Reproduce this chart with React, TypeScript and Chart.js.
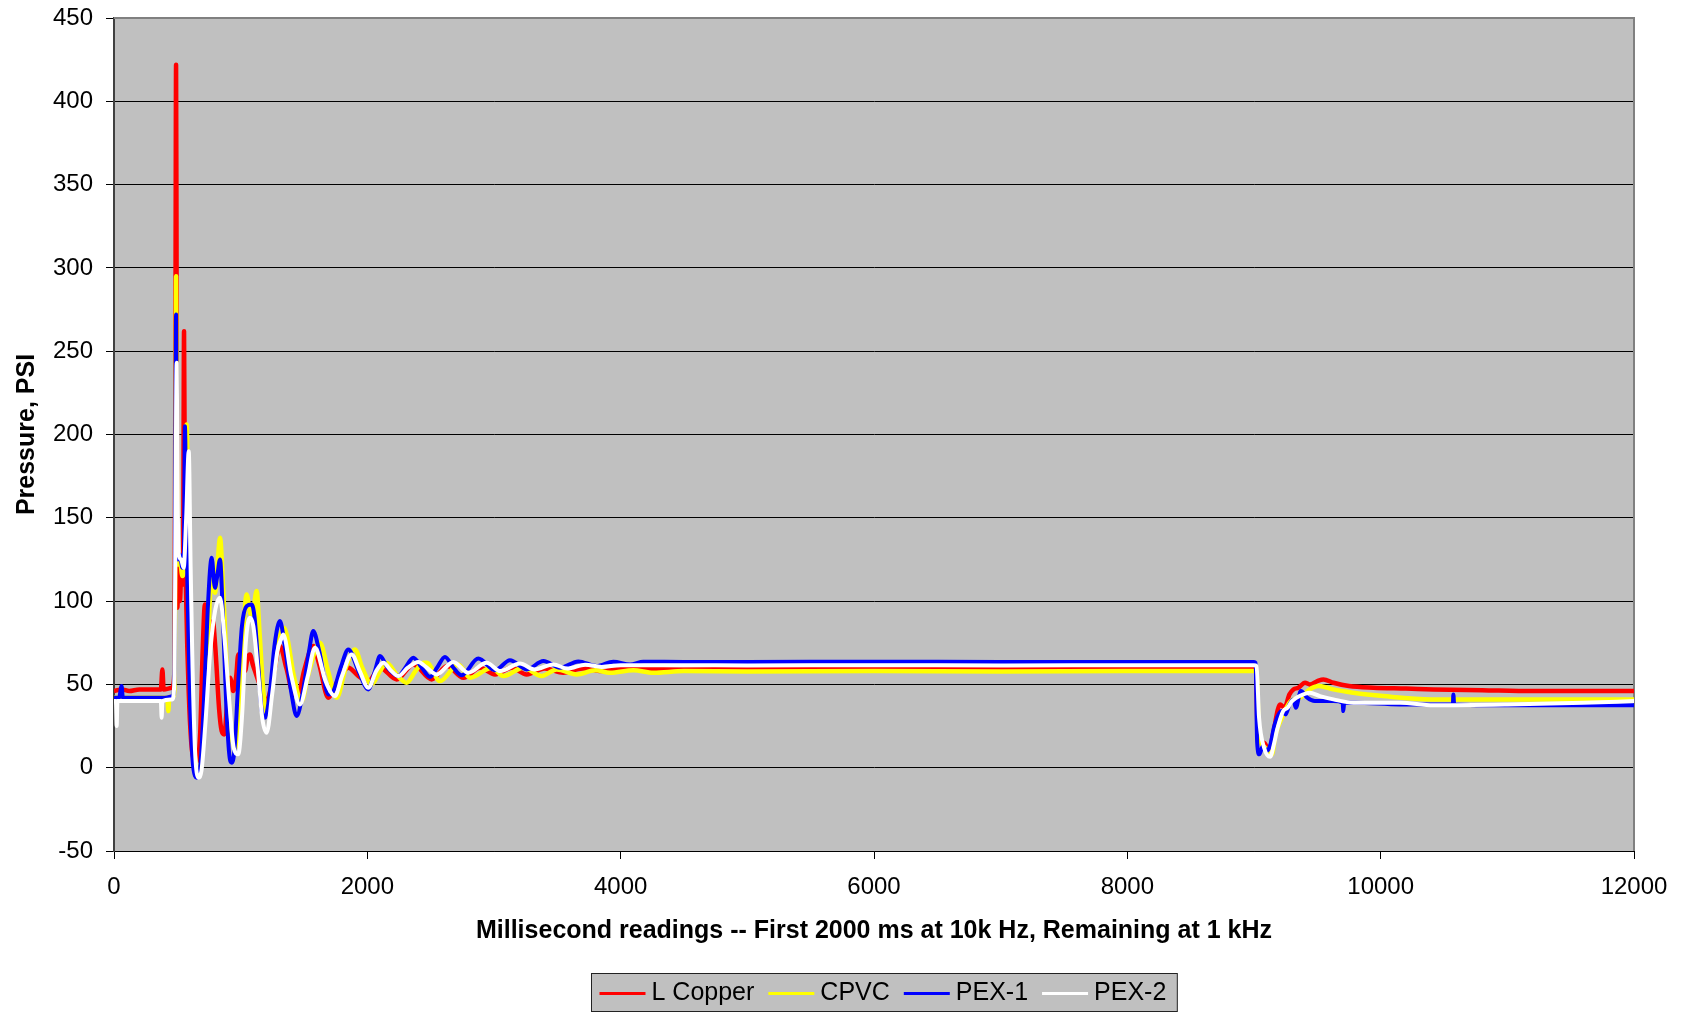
import { useEffect, useRef } from 'react';
import { Chart, registerables } from 'chart.js';

Chart.register(...registerables);

// Pressure transient readings (ms, psi) for each pipe material
const copperTime = [0, 60, 120, 200, 300, 370, 382, 392, 460, 478, 486, 490, 494, 500, 510, 520, 535, 545, 553, 560, 570, 590, 610, 630, 655, 680, 700, 718, 735, 755, 780, 800, 830, 850, 870, 895, 916, 942, 965, 981, 1005, 1034, 1055, 1073, 1095, 1113, 1150, 1205, 1250, 1310, 1360, 1420, 1460, 1500, 1574, 1620, 1692, 1750, 1850, 1930, 2008, 2100, 2231, 2363, 2508, 2630, 2758, 2890, 3008, 3140, 3258, 3400, 3547, 3700, 3850, 4000, 4500, 5000, 6000, 7000, 8000, 9000, 9016, 9030, 9080, 9120, 9150, 9206, 9240, 9280, 9311, 9350, 9403, 9440, 9500, 9548, 9627, 9750, 9942, 10200, 10416, 10800, 11206, 11600, 12000];
const copperPsi = [46, 47, 46, 47, 47, 47, 59, 47, 48, 60, 300, 422, 300, 96, 122, 100, 124, 110, 262, 150, 100, 45, 15, 5, 4, 20, 70, 98, 90, 82, 88, 72, 35, 22, 20, 40, 54, 46, 55, 68, 62, 58, 66, 68, 62, 58, 50, 40, 52, 73, 60, 44, 45, 58, 73, 62, 42, 50, 60, 55, 52, 60, 53, 62, 53, 61, 54, 60, 56, 60, 56, 59.5, 57, 59.5, 58, 59.5, 59, 59.3, 59.3, 59.3, 59.3, 59.3, 59, 16, 15, 10, 20, 38, 36, 44, 47, 48, 51, 50, 52, 53, 51, 49, 48, 47.5, 47, 46.5, 46, 46, 46];

const cpvcTime = [0, 100, 200, 300, 420, 429, 436, 470, 480, 486, 490, 495, 505, 520, 540, 560, 573, 585, 600, 625, 645, 666, 690, 720, 750, 771, 797, 820, 837, 860, 890, 920, 955, 985, 1020, 1047, 1080, 1100, 1126, 1150, 1180, 1210, 1250, 1300, 1340, 1363, 1420, 1481, 1530, 1626, 1690, 1758, 1830, 1902, 1960, 2034, 2100, 2152, 2230, 2310, 2380, 2442, 2470, 2574, 2718, 2811, 2982, 3074, 3232, 3377, 3495, 3653, 3800, 3916, 4100, 4258, 4500, 5000, 6000, 7000, 8000, 9000, 9020, 9040, 9090, 9140, 9170, 9220, 9290, 9363, 9440, 9508, 9580, 9627, 9785, 10021, 10400, 11000, 11600, 12000];
const cpvcPsi = [42, 42, 42, 42, 42, 34, 42, 43, 60, 200, 295, 200, 122, 125, 115, 130, 206, 150, 70, 20, 3, -1, 5, 40, 90, 118, 105, 125, 138, 110, 60, 25, 12, 25, 80, 104, 92, 95, 106, 80, 45, 32, 50, 76, 84, 80, 55, 40, 55, 75, 58, 42, 60, 71, 60, 50, 58, 63, 56, 51, 58, 63, 63, 52, 62, 54, 60, 55, 60, 55, 59, 56, 58.5, 57, 58.5, 57, 58, 57.8, 58, 57.8, 58, 58, 57, 20, 12, 8, 20, 30, 40, 42, 47, 49, 48, 47, 45, 43, 41, 41, 41, 41];

const pex1Time = [0, 40, 60, 70, 200, 300, 400, 465, 478, 485, 490, 496, 505, 520, 540, 552, 560, 570, 585, 600, 620, 640, 655, 680, 710, 740, 771, 797, 815, 837, 860, 885, 910, 929, 950, 980, 1010, 1047, 1087, 1110, 1140, 1165, 1192, 1230, 1270, 1310, 1350, 1400, 1442, 1490, 1540, 1573, 1620, 1692, 1732, 1790, 1850, 1930, 2008, 2060, 2100, 2160, 2245, 2300, 2363, 2430, 2495, 2550, 2613, 2680, 2745, 2876, 3008, 3126, 3258, 3390, 3521, 3666, 3810, 3942, 4074, 4179, 4500, 5000, 6000, 7000, 8000, 9000, 9012, 9025, 9042, 9070, 9100, 9130, 9160, 9219, 9250, 9280, 9310, 9330, 9370, 9420, 9480, 9627, 9700, 9705, 9712, 9800, 10153, 10570, 10574, 10580, 11000, 11600, 12000];
const pex1Psi = [42, 42, 49, 42, 42, 42, 42, 43, 60, 200, 272, 180, 125, 128, 120, 130, 205, 150, 90, 40, 5, -5, -6, 0, 40, 95, 126, 108, 115, 125, 90, 40, 8, 3, 10, 50, 85, 97, 98, 90, 60, 35, 30, 45, 75, 88, 72, 45, 31, 45, 70, 82, 70, 44, 46, 60, 71, 58, 47, 58, 67, 60, 55, 60, 66, 60, 54.5, 60, 66.5, 60, 55.5, 65.5, 58.5, 64.5, 59, 64, 60, 63.8, 61, 63.6, 62, 63.6, 63.5, 63.5, 63.6, 63.5, 63.5, 63.5, 63, 15, 8, 13, 10, 14, 25, 34, 32, 38, 41, 36, 46, 42, 40, 40, 39, 34, 39, 39, 38, 38, 44, 38, 37.5, 37.5, 37.5];

const pex2Time = [0, 15, 21, 27, 100, 200, 300, 370, 376, 382, 460, 478, 486, 495, 503, 512, 530, 550, 570, 590, 605, 620, 640, 666, 690, 720, 760, 800, 837, 870, 910, 945, 981, 1010, 1040, 1073, 1100, 1140, 1170, 1205, 1250, 1290, 1324, 1336, 1400, 1468, 1530, 1586, 1600, 1670, 1744, 1800, 1876, 1940, 2008, 2070, 2126, 2190, 2244, 2320, 2402, 2470, 2547, 2679, 2797, 2942, 3050, 3205, 3320, 3468, 3580, 3720, 3850, 4000, 4500, 5000, 6000, 7000, 8000, 9000, 9020, 9040, 9080, 9127, 9160, 9180, 9230, 9265, 9300, 9360, 9440, 9520, 9627, 9785, 10153, 10416, 11000, 11600, 12000];
const pex2Psi = [40, 40, 25, 40, 40, 40, 40, 40, 30, 40, 41, 55, 160, 243, 160, 128, 125, 120, 150, 190, 120, 60, 10, -6, -2, 25, 70, 95, 102, 80, 40, 12, 8, 30, 75, 90, 85, 55, 30, 21, 45, 70, 78, 80, 55, 38, 55, 72, 71, 52, 43, 55, 68, 58, 48, 58, 63, 58, 55, 60, 63.5, 60, 56, 63.5, 57, 63, 58, 62.5, 59, 62, 59.5, 61.8, 60.5, 61.5, 61.5, 61.4, 61.5, 61.4, 61.5, 61.5, 61, 30, 12, 6.5, 15, 22, 34, 36, 40, 43, 45, 43, 41, 39, 39, 37.5, 38, 39, 40];

const seriesNames = ['L Copper', 'CPVC', 'PEX-1', 'PEX-2'];
const seriesColors = ['#FF0000', '#FFFF00', '#0000FF', '#FFFFFF'];
const seriesWidths = [4.5, 4.5, 4, 4];
const seriesTimes = [copperTime, cpvcTime, pex1Time, pex2Time];
const seriesValues = [copperPsi, cpvcPsi, pex1Psi, pex2Psi];

const xMin = 0;
const xMax = 12000;
const xStep = 2000;
const yMin = -50;
const yMax = 450;
const yStep = 50;

const xTitle = 'Millisecond readings -- First 2000 ms at 10k Hz, Remaining at 1 kHz';
const yTitle = 'Pressure, PSI';

const FONT = '"Liberation Sans", Arial, sans-serif';
const PLOT_BG = '#C0C0C0';

// Grey plot area with a thin frame
const plotFrame = {
  id: 'plotFrame',
  beforeDraw(chart: any) {
    const { ctx, chartArea: a } = chart;
    ctx.save();
    ctx.fillStyle = PLOT_BG;
    ctx.fillRect(a.left, a.top, a.right - a.left, a.bottom - a.top);
    ctx.restore();
  },
  beforeDatasetsDraw(chart: any) {
    const { ctx, chartArea: a } = chart;
    ctx.save();
    ctx.strokeStyle = '#808080';
    ctx.lineWidth = 2;
    ctx.beginPath();
    ctx.moveTo(a.left, a.top);
    ctx.lineTo(a.right, a.top);
    ctx.lineTo(a.right, a.bottom);
    ctx.stroke();
    ctx.restore();
  },
};

// Boxed legend under the axis title
const boxedLegend = {
  id: 'boxedLegend',
  afterDraw(chart: any) {
    const { ctx, chartArea: a } = chart;
    const datasets = chart.data.datasets;
    ctx.save();
    ctx.font = `25px ${FONT}`;
    const sample = 46;
    const gapText = 6;
    const gapItem = 14;
    const padL = 8;
    const padR = 11;
    const widths = datasets.map((d: any) => ctx.measureText(d.label).width);
    let total = padL + padR;
    widths.forEach((w: number, i: number) => {
      total += sample + gapText + w + (i < widths.length - 1 ? gapItem : 0);
    });
    const cx = (a.left + a.right) / 2 + 10;
    const left = Math.round(cx - total / 2) + 0.5;
    const top = 973.5;
    const h = 38;
    ctx.fillStyle = PLOT_BG;
    ctx.fillRect(left, top, total, h);
    ctx.strokeStyle = '#222';
    ctx.lineWidth = 1;
    ctx.strokeRect(left, top, total, h);
    const midY = top + h / 2;
    let x = left + padL;
    datasets.forEach((d: any, i: number) => {
      ctx.strokeStyle = d.borderColor;
      ctx.lineWidth = 3;
      ctx.beginPath();
      ctx.moveTo(x, midY + 1);
      ctx.lineTo(x + sample, midY + 1);
      ctx.stroke();
      x += sample + gapText;
      ctx.fillStyle = '#000';
      ctx.textBaseline = 'middle';
      ctx.textAlign = 'left';
      ctx.fillText(d.label, x, midY + 1);
      x += widths[i] + gapItem;
    });
    ctx.restore();
  },
};

export default function App() {
  const canvasRef = useRef<HTMLCanvasElement | null>(null);

  useEffect(() => {
    if (!canvasRef.current) return;
    Chart.defaults.font.family = FONT;
    Chart.defaults.color = '#000';

    const datasets = seriesNames.map((name, i) => ({
      label: name,
      data: seriesTimes[i].map((t, j) => ({ x: t, y: seriesValues[i][j] })),
      borderColor: seriesColors[i],
      backgroundColor: seriesColors[i],
      borderWidth: seriesWidths[i],
      pointRadius: 0,
      cubicInterpolationMode: 'monotone' as const,
      borderJoinStyle: 'round' as const,
      // first series lies underneath, last series on top
      order: seriesNames.length - 1 - i,
    }));

    const chart = new Chart(canvasRef.current, {
      type: 'line',
      data: { datasets },
      options: {
        responsive: false,
        animation: false,
        devicePixelRatio: 1,
        layout: { padding: { left: 0, right: 50, top: 18, bottom: 0 } },
        plugins: {
          legend: { display: false },
          tooltip: { enabled: false },
        },
        scales: {
          x: {
            type: 'linear',
            min: xMin,
            max: xMax,
            ticks: {
              stepSize: xStep,
              font: { size: 24 },
              color: '#000',
              padding: 14,
              maxRotation: 0,
              callback: (v: any) => String(v),
            },
            grid: { drawOnChartArea: false, drawTicks: true, tickLength: 8, color: '#000' },
            border: { color: '#000', width: 1 },
            title: {
              display: true,
              text: xTitle,
              color: '#000',
              font: { size: 25, weight: 'bold' },
              padding: { top: 0, bottom: 66 },
            },
            afterFit: (s: any) => {
              s.height = 161;
              s.paddingLeft = 0;
              s.paddingRight = 0;
            },
          },
          y: {
            type: 'linear',
            min: yMin,
            max: yMax,
            ticks: {
              stepSize: yStep,
              font: { size: 24 },
              color: '#000',
              padding: 13,
              callback: (v: any) => String(v),
            },
            grid: { color: '#000', lineWidth: 1, drawTicks: true, tickLength: 8 },
            border: { color: '#404040', width: 2 },
            title: {
              display: true,
              text: yTitle,
              color: '#000',
              font: { size: 25, weight: 'bold' },
              padding: { top: 12, bottom: 0 },
            },
            afterFit: (s: any) => {
              s.width = 114;
              s.paddingTop = 0;
              s.paddingBottom = 0;
            },
          },
        },
      },
      plugins: [plotFrame, boxedLegend],
    });

    return () => chart.destroy();
  }, []);

  return (
    <div style={{ position: 'fixed', left: 0, top: 0, width: 1684, height: 1012, background: '#fff' }}>
      <canvas ref={canvasRef} width={1684} height={1012} style={{ display: 'block' }} />
    </div>
  );
}
